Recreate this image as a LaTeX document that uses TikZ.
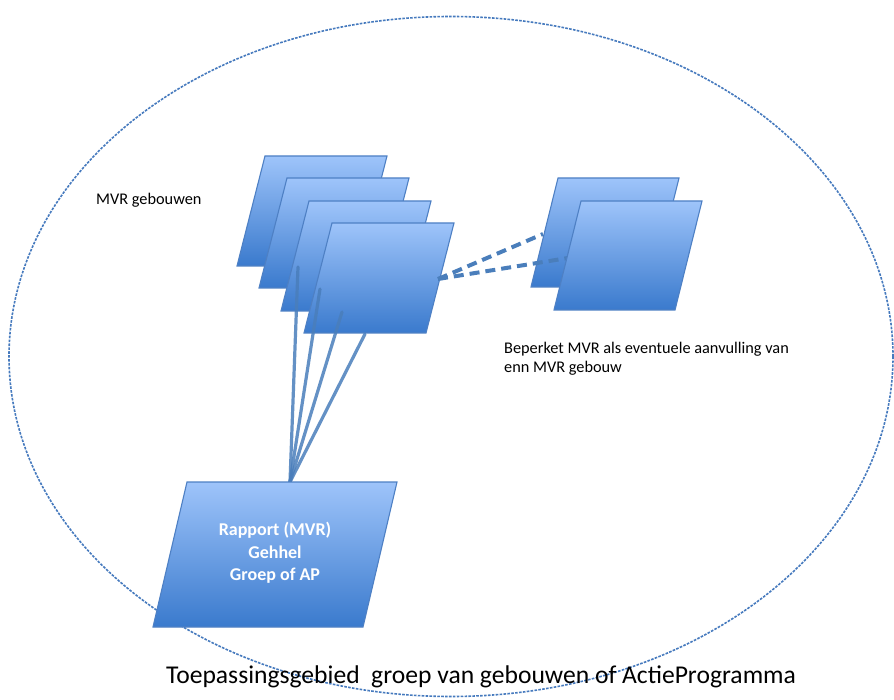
\documentclass[tikz,border=0pt]{standalone}
\usepackage{fontspec}
\setmainfont{Carlito}
\definecolor{pgtop}{RGB}{158,196,250}
\definecolor{pgbot}{RGB}{58,122,205}
\definecolor{pgline}{RGB}{78,128,196}
\definecolor{conn}{RGB}{74,126,187}
\definecolor{ellc}{RGB}{70,122,190}
\tikzset{
  pgfill/.style={draw=pgline, line width=1.1pt, top color=pgtop, bottom color=pgbot, line join=miter},
  solidconn/.style={draw=conn, line width=3.2pt, opacity=0.85, line cap=round},
  dashconn/.style={draw=conn, line width=4pt, dash pattern=on 10pt off 6pt},
  ell/.style={draw=ellc, line width=1.6pt, dash pattern=on 2.6pt off 1.3pt},
  lbl/.style={font=\fontsize{16.3}{19}\selectfont, text=black, inner sep=0pt},
}
% #1 bottom-left x, #2 bottom y, #3 width, #4 height, #5 slant
\newcommand{\mypgram}[5]{\path[pgfill] (#1,#2) -- ++(#3,0) -- ++(#5,-#4) -- ++(-#3,0) -- cycle;}
\begin{document}
\begin{tikzpicture}[x=1pt,y=-1pt]
\useasboundingbox (0,0) rectangle (894,700);
\fill[white] (0,0) rectangle (894,700);
% scope ellipse
\draw[ell] (451,356.5) ellipse [x radius=442pt, y radius=340pt];
% stack of MVR buildings
\mypgram{237}{266}{122}{110}{28}
\mypgram{259}{288}{122}{110}{28}
\mypgram{281}{311}{122}{110}{28}
\mypgram{304}{333}{122}{110}{28}
% connector points
\coordinate (apex) at (290,482);
\coordinate (t1) at (298,267);
\coordinate (t2) at (320,289);
\coordinate (t3) at (342,312);
\coordinate (t4) at (365,334);
\coordinate (d0) at (438,279);
\coordinate (d1) at (543,234);
\coordinate (d2) at (568,258);
% right pair (back)
\mypgram{531}{287}{121}{109}{27}
% dashed connectors
\draw[dashconn] (d0) -- (d1);
\draw[dashconn] (d0) -- (d2);
% right pair (front)
\mypgram{554}{310}{121}{109}{27}
% solid connectors
\draw[solidconn] (apex) -- (t1);
\draw[solidconn] (apex) -- (t2);
\draw[solidconn] (apex) -- (t3);
\draw[solidconn] (apex) -- (t4);
% report box
\mypgram{153}{627}{210}{145}{34}
\node[font=\fontsize{18}{22.5}\selectfont\bfseries, text=white, align=center, inner sep=0pt] (rapport) at (275,553) {Rapport (MVR)\\Gehhel\\Groep of AP};
% labels
\node[lbl, anchor=west] (mvr) at (96,200) {MVR gebouwen};
\node[lbl, anchor=north west, align=left] (beperkt) at (504,342) {Beperket MVR als eventuele aanvulling van\\enn MVR gebouw};
\node[font=\fontsize{25.6}{30}\selectfont, inner sep=0pt] (title) at (481,677) {Toepassingsgebied\ \ groep van gebouwen of ActieProgramma};
\end{tikzpicture}
\end{document}
